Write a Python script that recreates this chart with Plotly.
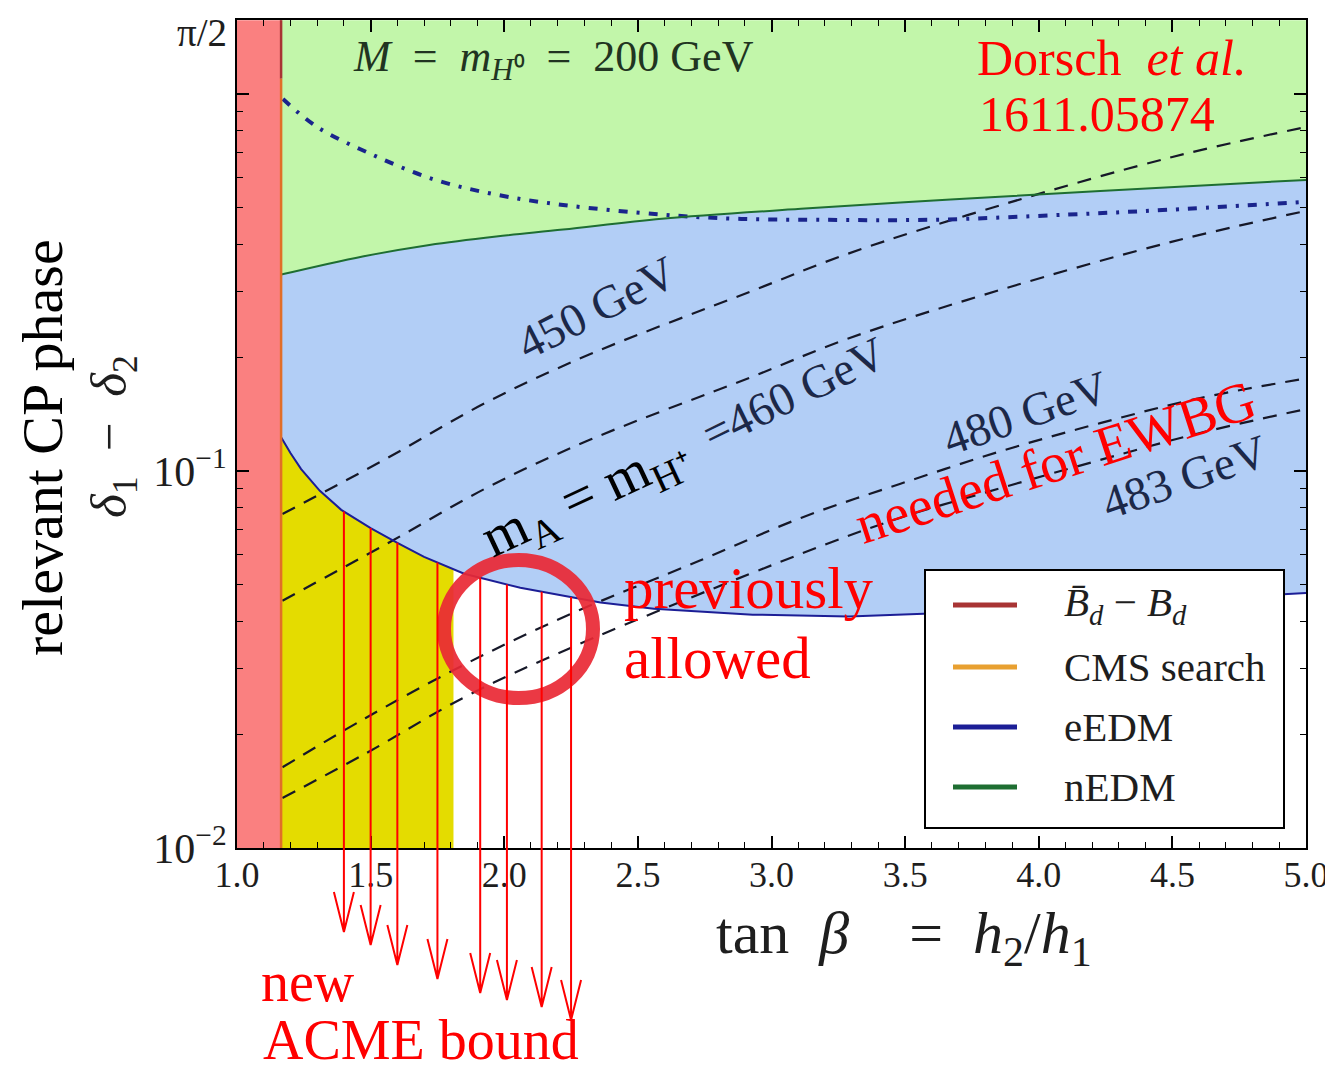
import numpy as np
import plotly.graph_objects as go

# ---------------- data ----------------
X_RANGE = [1.0, 5.0]
Y_MIN, Y_MAX = 0.01, np.pi / 2

bd_edge = 1.165      # B_d - B_d-bar mixing excludes tan(beta) below this
cms_edge = 1.81      # CMS search excludes up to this tan(beta) (below eEDM curve)

# nEDM bound (green solid)
nedm_x = [1.165, 1.47, 1.72, 1.97, 2.22, 2.59, 3.11, 3.67, 4.23, 5.0]
nedm_y = [0.332, 0.371, 0.398, 0.419, 0.437, 0.467, 0.496, 0.525, 0.553, 0.592]

# eEDM bound, new ACME (blue solid)
eedm_x = [1.165, 1.20, 1.24, 1.31, 1.39, 1.50, 1.60, 1.70, 1.85, 2.06, 2.36, 2.56, 2.93, 3.29, 3.57, 4.23, 5.0]
eedm_y = [0.123, 0.1116, 0.1012, 0.0886, 0.0789, 0.0706, 0.0645, 0.0592, 0.0534, 0.0490, 0.0448, 0.0431, 0.0416, 0.0411, 0.0418, 0.0442, 0.0475]

# old eEDM bound (blue dash-dot)
old_x = [1.172, 1.30, 1.50, 1.73, 1.97, 2.22, 2.59, 2.86, 3.17, 3.60, 4.11, 4.48, 5.0]
old_y = [0.970, 0.818, 0.694, 0.596, 0.541, 0.508, 0.479, 0.467, 0.464, 0.464, 0.479, 0.493, 0.518]

# m_A = m_H+ contours (black dashed)
m450_x = [1.17, 1.56, 1.94, 2.32, 2.92, 3.29, 3.86, 4.50, 5.0]
m450_y = [0.0769, 0.108, 0.153, 0.204, 0.299, 0.378, 0.508, 0.681, 0.818]
m460_x = [1.17, 1.56, 1.94, 2.32, 2.92, 3.29, 3.86, 4.50, 5.0]
m460_y = [0.0453, 0.0641, 0.0907, 0.121, 0.177, 0.225, 0.303, 0.406, 0.490]
m480_x = [1.17, 1.48, 1.86, 2.25, 2.73, 3.11, 3.48, 3.86, 4.23, 4.60, 5.0]
m480_y = [0.01637, 0.0221, 0.0309, 0.0418, 0.0578, 0.0751, 0.0924, 0.113, 0.134, 0.156, 0.176]
m483_x = [1.17, 1.49, 1.85, 2.25, 3.11, 3.48, 3.86, 4.23, 4.60, 5.0]
m483_y = [0.01357, 0.01795, 0.0251, 0.0340, 0.0603, 0.0751, 0.0902, 0.107, 0.126, 0.146]

# tan(beta) values of the "new ACME bound" arrows
acme_x = [1.40, 1.50, 1.60, 1.75, 1.91, 2.01, 2.14, 2.25]

x_ticks = [1.0, 1.5, 2.0, 2.5, 3.0, 3.5, 4.0, 4.5, 5.0]
y_ticks = [0.01, 0.1, 1.0, np.pi / 2]
y_ticktext = ["10<sup>−2</sup>", "10<sup>−1</sup>", "", ""]
top_tick_label = "π/2"   # label of the top tick (pi/2), drawn as an annotation so it fits the page

legend_labels = ["<i>B̄</i><sub><i>d</i></sub> − <i>B</i><sub><i>d</i></sub>", "CMS search", "eEDM", "nEDM"]

# ---------------- styling ----------------
SERIF = "Liberation Serif"
C_RED_BAND = "rgb(250,128,128)"
C_GREEN = "rgb(194,246,170)"
C_BLUE = "rgb(178,206,246)"
C_YELLOW = "rgb(228,220,0)"
C_BD = "rgb(168,52,52)"
C_CMS = "rgb(232,160,48)"
C_EEDM = "rgb(28,30,150)"
C_NEDM = "rgb(30,110,50)"
C_DASH = "rgb(22,24,40)"
C_LABEL = "rgb(28,40,72)"
C_TEXT = "rgb(30,30,30)"
legend_colors = [C_BD, C_CMS, C_EEDM, C_NEDM]

# plot area in screen pixels of the reference; page body adds an 8px offset
OFF = 8
L, R, T, B = 237, 1306, 20, 848
W, H = 1333 - OFF, 1070 - OFF


def paper(px, py):
    return (px - L) / (R - L), (B - py) / (B - T)


logmin, logmax = np.log10(Y_MIN), np.log10(Y_MAX)


def ypaper(v):
    return (np.log10(v) - logmin) / (logmax - logmin)


fig = go.Figure()

# regions
fig.add_trace(go.Scatter(x=nedm_x + [X_RANGE[1], bd_edge], y=nedm_y + [Y_MAX, Y_MAX],
                         fill="toself", fillcolor=C_GREEN, line=dict(width=0),
                         mode="lines", showlegend=False, hoverinfo="skip"))
fig.add_trace(go.Scatter(x=nedm_x + eedm_x[::-1], y=nedm_y + eedm_y[::-1],
                         fill="toself", fillcolor=C_BLUE, line=dict(width=0),
                         mode="lines", showlegend=False, hoverinfo="skip"))
ex = np.array(eedm_x)
ey = np.array(eedm_y)
sel = ex < cms_edge
y_at_cms = 10 ** np.interp(cms_edge, ex, np.log10(ey))
yx = [bd_edge] + list(ex[sel]) + [cms_edge, cms_edge]
yy = [Y_MIN] + list(ey[sel]) + [y_at_cms, Y_MIN]
fig.add_trace(go.Scatter(x=yx, y=yy, fill="toself", fillcolor=C_YELLOW, line=dict(width=0),
                         mode="lines", showlegend=False, hoverinfo="skip"))
fig.add_trace(go.Scatter(x=[X_RANGE[0], bd_edge, bd_edge, X_RANGE[0]], y=[Y_MIN, Y_MIN, Y_MAX, Y_MAX],
                         fill="toself", fillcolor=C_RED_BAND, line=dict(width=0),
                         mode="lines", showlegend=False, hoverinfo="skip"))

# dashed mass contours
for mx, my in [(m450_x, m450_y), (m460_x, m460_y), (m480_x, m480_y), (m483_x, m483_y)]:
    fig.add_trace(go.Scatter(x=mx, y=my, mode="lines", line=dict(color=C_DASH, width=2.2, dash="14px,10px"),
                             line_shape="spline", showlegend=False, hoverinfo="skip"))

# boundaries
fig.add_trace(go.Scatter(x=old_x, y=old_y, mode="lines", line_shape="spline",
                         line=dict(color="rgb(26,36,140)", width=4, dash="9px,9px,3px,9px"),
                         showlegend=False, hoverinfo="skip"))
fig.add_trace(go.Scatter(x=eedm_x, y=eedm_y, mode="lines",
                         line=dict(color=C_EEDM, width=2), showlegend=False, name="eEDM"))
fig.add_trace(go.Scatter(x=nedm_x, y=nedm_y, mode="lines", line_shape="spline",
                         line=dict(color=C_NEDM, width=2), showlegend=False, name="nEDM"))
fig.add_trace(go.Scatter(x=[bd_edge, bd_edge], y=[Y_MIN, 1.1], mode="lines",
                         line=dict(color="rgb(225,110,40)", width=2.5), showlegend=False, name="CMS search"))
fig.add_trace(go.Scatter(x=[bd_edge, bd_edge], y=[1.1, Y_MAX], mode="lines",
                         line=dict(color=C_BD, width=2.5), showlegend=False, name="B_d"))

shapes = []
ann = []


def add_text(text, px, py, size, color, angle=0, xanchor="center", family=SERIF, yanchor="middle"):
    x, y = paper(px, py)
    ann.append(dict(text=text, x=x, y=y, xref="paper", yref="paper", showarrow=False,
                    xanchor=xanchor, yanchor=yanchor, textangle=angle,
                    font=dict(family=family, size=size, color=color)))


# legend box (drawn by hand to match the reference proportions)
lx0, ly0 = paper(925, 828)
lx1, ly1 = paper(1284, 570)
shapes.append(dict(type="rect", xref="paper", yref="paper", x0=lx0, y0=ly0, x1=lx1, y1=ly1,
                   fillcolor="white", line=dict(color="black", width=2), layer="above"))
row_py = [605, 667, 727, 787]
for lab, col, rp in zip(legend_labels, legend_colors, row_py):
    a, yv = paper(953, rp)
    b, _ = paper(1017, rp)
    shapes.append(dict(type="line", xref="paper", yref="paper", x0=a, x1=b, y0=yv, y1=yv,
                       line=dict(color=col, width=5)))
    add_text(lab, 1062, rp, 41, C_TEXT, xanchor="left")

# red circle ("previously allowed")
cx0, cy0 = paper(444, 698)
cx1, cy1 = paper(593, 560)
shapes.append(dict(type="circle", xref="paper", yref="paper", x0=cx0, y0=cy0, x1=cx1, y1=cy1,
                   line=dict(color="rgba(233,40,52,0.92)", width=14)))

# ACME arrows
tip_py = [932, 945, 965, 979, 993, 1000, 1007, 1020]
hw = 10 / (R - L) * (X_RANGE[1] - X_RANGE[0])
hh = 40 / (B - T)
for ax_, tp in zip(acme_x, tip_py):
    y_top = ypaper(10 ** np.interp(ax_, ex, np.log10(ey)))
    y_tip = (B - tp) / (B - T)
    path = (f"M {ax_},{y_top} L {ax_},{y_tip} "
            f"M {ax_ - hw},{y_tip + hh} L {ax_},{y_tip} L {ax_ + hw},{y_tip + hh}")
    shapes.append(dict(type="path", xref="x", yref="paper", path=path,
                       line=dict(color="rgb(255,0,0)", width=2)))

NB = "\u00a0"
add_text(top_tick_label, 229, OFF + 1, 39, C_TEXT, xanchor="right", yanchor="top")
add_text(f"<i>M</i>{NB}{NB}={NB}{NB}<i>m</i><sub><i>H</i>⁰</sub>{NB}{NB}={NB}{NB}200 GeV", 553, 60, 44, "rgb(33,52,33)")
add_text(f"Dorsch{NB}{NB}<i>et al.</i>", 975, 58, 50, "red", xanchor="left")
add_text("1611.05874", 977, 114, 50, "red", xanchor="left")
add_text("450 GeV", 596, 308, 47, C_LABEL, angle=-27)
add_text("=460 GeV", 794, 393, 47, C_LABEL, angle=-26)
add_text("480 GeV", 1025, 413, 47, C_LABEL, angle=-19)
add_text("483 GeV", 1184, 477, 47, C_LABEL, angle=-19)
add_text(f"m<sub>A</sub>{NB}={NB}m<sub>H⁺</sub>", 586, 498, 57, "black", angle=-25)
add_text("needed for EWBG", 1055, 462, 56, "red", angle=-18)
add_text("previously", 622, 588, 59, "red", xanchor="left")
add_text("allowed", 622, 658, 59, "red", xanchor="left")
add_text("new", 259, 982, 56, "red", xanchor="left")
add_text("ACME bound", 261, 1040, 56, "red", xanchor="left")
add_text("relevant CP phase", 42, 448, 58, "black", angle=-90)
add_text(f"<i>δ</i><sub>1</sub>{NB}{NB}−{NB}{NB}<i>δ</i><sub>2</sub>", 113, 437, 51, C_TEXT, angle=-90)
add_text(f"tan{NB}{NB}<i>β</i>{NB}{NB}{NB}{NB}={NB}{NB}<i>h</i><sub>2</sub>/<i>h</i><sub>1</sub>", 904, 937, 60, C_TEXT)

fig.update_layout(
    width=W, height=H, autosize=False,
    margin=dict(l=L - OFF, r=W - (R - OFF), t=T - OFF, b=H - (B - OFF), pad=0, autoexpand=False),
    paper_bgcolor="white", plot_bgcolor="white",
    font=dict(family=SERIF, size=36, color=C_TEXT),
    shapes=shapes, annotations=ann,
    showlegend=False,
    xaxis=dict(range=X_RANGE, tickvals=x_ticks, ticktext=[f"{v:.1f}" for v in x_ticks],
               ticks="inside", ticklen=12, tickwidth=1.5, tickcolor="black",
               minor=dict(ticks="inside", dtick=0.1, ticklen=6, tickwidth=1.2, tickcolor="black"),
               showline=True, linecolor="black", linewidth=2, mirror="ticks",
               showgrid=False, zeroline=False, ticklabelstandoff=-6, automargin=False,
               tickfont=dict(family=SERIF, size=36, color=C_TEXT)),
    yaxis=dict(type="log", range=[logmin, logmax + 0.0004], tickvals=y_ticks, ticktext=y_ticktext,
               ticks="inside", ticklen=12, tickwidth=1.5, tickcolor="black",
               minor=dict(ticks="inside", ticklen=6, tickwidth=1.2, tickcolor="black",
                          tickvals=[k * 0.01 for k in range(2, 10)] + [k * 0.1 for k in range(2, 10)]),
               showline=True, linecolor="black", linewidth=2, mirror="ticks",
               showgrid=False, zeroline=False, automargin=False,
               tickfont=dict(family=SERIF, size=42, color=C_TEXT)),
)

fig.write_html("out.html")
